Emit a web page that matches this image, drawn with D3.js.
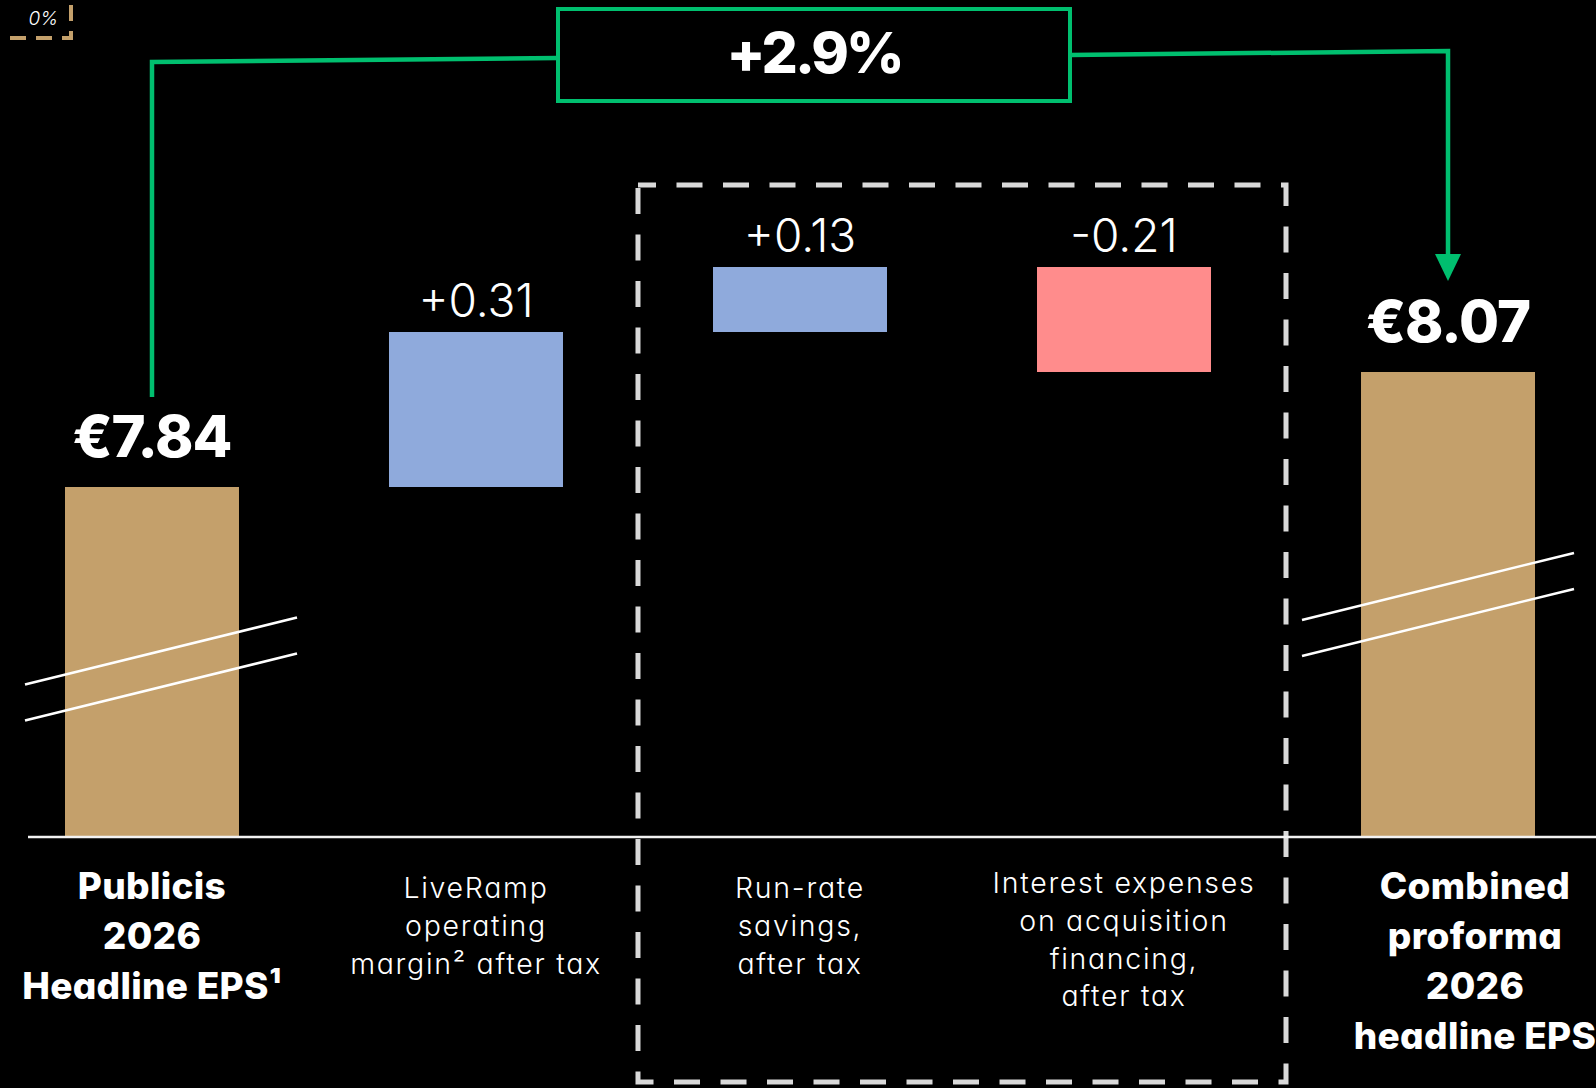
<!DOCTYPE html>
<html><head><meta charset="utf-8">
<script src="https://cdn.jsdelivr.net/npm/d3@7"></script>
<style>
html,body{margin:0;padding:0;background:#000;overflow:hidden}
svg{display:block;background:#000}
text{font-family:Inter,"Noto Sans",sans-serif;font-feature-settings:"cv11" 1;fill:#fff}
</style></head><body>
<svg id="chart" width="1596" height="1088"></svg>
<script>
// ---- data ----
const categories = ["Publicis", "LiveRamp", "Run-rate savings", "Interest expenses", "Combined"];
const labelLines = [
  ["Publicis", "2026", "Headline EPS¹"],
  ["LiveRamp", "operating", "margin² after tax"],
  ["Run-rate", "savings,", "after tax"],
  ["Interest expenses", "on acquisition", "financing,", "after tax"],
  ["Combined", "proforma", "2026", "headline EPS"]
];
const values = [7.84, 0.31, 0.13, -0.21, 8.07];
const kinds = ["total", "delta", "delta", "delta", "total"];
const groupedCategories = ["Run-rate savings", "Interest expenses"];
const cornerText = "0%";

// ---- layout ----
const W = 1596, H = 1088;
const baseY = 837;
const colors = {total: "#C4A06B", up: "#8FAADC", down: "#FF8C8C", green: "#00BF6F", dash: "#D9D9D9", base: "#F2F2F2"};

const x = d3.scaleBand().domain(categories).range([65, 1535]).paddingInner(0.463).paddingOuter(0);
// truncated value axis (break marks drawn on the total bars)
const y = d3.scaleLinear().domain([7.14, 8.44]).range([baseY, 187]);

// waterfall geometry from data
let running = 0;
const bars = categories.map((c, i) => {
  const v = values[i];
  let start, end;
  if (kinds[i] === "total") { start = y.domain()[0]; end = v; running = v; }
  else { start = running; end = running + v; running = end; }
  return {cat: c, v, kind: kinds[i], start, end, lines: labelLines[i], idx: i};
});

const svg = d3.select("#chart");
const cx = d => x(d.cat) + x.bandwidth() / 2;

// top-left remnant (tan dashed callout)
svg.append("rect").attr("x", -20).attr("y", -60).attr("width", 91).attr("height", 98)
  .attr("fill", "none").attr("stroke", colors.total).attr("stroke-width", 4)
  .attr("stroke-dasharray", "16 10");
svg.append("text").attr("x", 58).attr("y", 25).attr("text-anchor", "end")
  .attr("font-size", 19).attr("font-style", "italic").attr("font-weight", 300).text(cornerText);

// dashed grouping box
const g0 = x(groupedCategories[0]) - x.step() * x.paddingInner() / 2;
const g1 = x(groupedCategories[1]) + x.bandwidth() + x.step() * x.paddingInner() / 2;
svg.append("rect").attr("x", g0).attr("y", 185).attr("width", g1 - g0).attr("height", 897)
  .attr("fill", "none").attr("stroke", colors.dash).attr("stroke-width", 5)
  .attr("stroke-dasharray", "26 20.5").attr("stroke-dashoffset", 8);

// bars
svg.append("g").selectAll("rect").data(bars).join("rect")
  .attr("x", d => x(d.cat)).attr("width", x.bandwidth())
  .attr("y", d => y(Math.max(d.start, d.end)))
  .attr("height", d => Math.abs(y(d.start) - y(d.end)))
  .attr("fill", d => d.kind === "total" ? colors.total : (d.v >= 0 ? colors.up : colors.down));

// baseline
svg.append("line").attr("x1", 28).attr("x2", W).attr("y1", baseY).attr("y2", baseY)
  .attr("stroke", colors.base).attr("stroke-width", 2.5);

// axis break marks on total bars
const totals = bars.filter(d => d.kind === "total");
const breakFrac = [0.48, 0.5];
totals.forEach((d, k) => {
  const h = y(d.start) - y(d.end);
  const my = y(d.start) - breakFrac[k] * h;
  const mx = cx(d) + (k === 0 ? 9 : -10);
  [-18, 18].forEach(off => {
    svg.append("line")
      .attr("x1", mx - 136).attr("y1", my + off + 33.5)
      .attr("x2", mx + 136).attr("y2", my + off - 33.5)
      .attr("stroke", "#fff").attr("stroke-width", 2.5);
  });
});

// value labels
const fmtDelta = v => (v >= 0 ? "+" : "-") + Math.abs(v).toFixed(2);
svg.append("g").selectAll("text").data(bars).join("text")
  .attr("x", d => cx(d))
  .attr("y", d => y(Math.max(d.start, d.end)) - (d.kind === "total" ? 30 : 15))
  .attr("text-anchor", "middle")
  .attr("font-size", d => d.kind === "total" ? 58 : 46)
  .attr("font-weight", d => d.kind === "total" ? 800 : 300)
  .attr("letter-spacing", d => d.kind === "total" ? -1 : 0)
  .text(d => d.kind === "total" ? "€" + d.v.toFixed(2) : fmtDelta(d.v));

// category labels
const labelShift = [0, 0, 0, 0, 27];
bars.forEach(d => {
  const bold = d.kind === "total";
  const t = svg.append("text").attr("text-anchor", "middle")
    .attr("font-size", bold ? 37 : 28.5).attr("font-weight", bold ? 800 : 300)
    .attr("letter-spacing", bold ? 0.3 : 1.7);
  const y0 = bold ? 899 : (d.lines.length > 3 ? 893 : 898);
  d.lines.forEach((ln, i) => {
    t.append("tspan").attr("x", cx(d) + labelShift[d.idx]).attr("y", y0 + i * (bold ? 50 : 37.8)).text(ln);
  });
});

// growth connector
const first = totals[0], last = totals[1];
const x1 = cx(first), x5 = cx(last);
const boxW = 512, boxCx = (x1 + x5) / 2 + 14, boxL = boxCx - boxW / 2, boxR = boxCx + boxW / 2;
const top1 = y(first.end) - 30 - 42 - 18;
const tip5 = y(last.end) - 30 - 42 - 19;
svg.append("path").attr("d", `M${x1},${top1}L${x1},62L${boxL},58`)
  .attr("fill", "none").attr("stroke", colors.green).attr("stroke-width", 4.5);
svg.append("path").attr("d", `M${boxR},55L${x5},51L${x5},${tip5 - 24}`)
  .attr("fill", "none").attr("stroke", colors.green).attr("stroke-width", 4.5);
svg.append("path").attr("d", `M${x5 - 13},${tip5 - 27}L${x5 + 13},${tip5 - 27}L${x5},${tip5}Z`)
  .attr("fill", colors.green);
svg.append("rect").attr("x", boxL).attr("y", 9).attr("width", boxW).attr("height", 92)
  .attr("fill", "#000").attr("stroke", colors.green).attr("stroke-width", 4);
svg.append("text").attr("x", boxCx).attr("y", 73).attr("text-anchor", "middle")
  .attr("font-size", 57).attr("font-weight", 800).attr("letter-spacing", -3)
  .text(d3.format("+.1%")(last.v / first.v - 1));
</script>
</body></html>
